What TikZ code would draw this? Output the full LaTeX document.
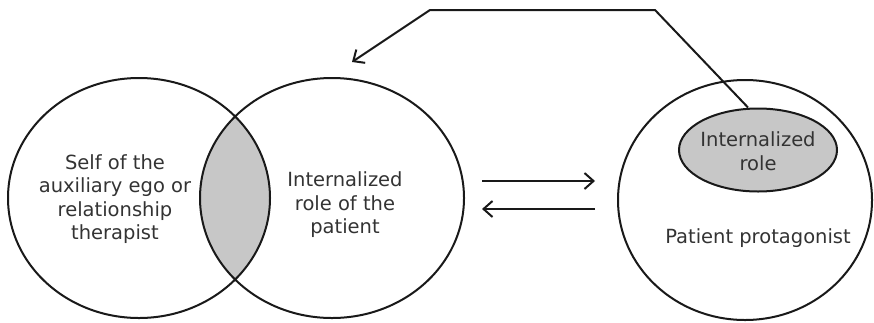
\documentclass[tikz,border=0pt]{standalone}
\usepackage{fontspec}
\setmainfont{DejaVu Sans}
\usetikzlibrary{shapes.geometric,arrows.meta}
\begin{document}
\begin{tikzpicture}[x=1pt,y=-1pt,
  ring/.style={draw=black!90,line width=2pt,ellipse,inner sep=0pt},
  lbl/.style={align=center,text=black!80,font=\fontsize{19.5}{23.5}\selectfont},
  link/.style={draw=black!90,line width=2pt},
  tip/.style={-{Straight Barb[length=9pt,width=16pt,line width=2pt]}}]
\useasboundingbox (0,0) rectangle (874,322);
% shaded lens
\begin{scope}
  \clip (139,198) ellipse [x radius=131,y radius=120];
  \fill[black!22] (332,198) ellipse [x radius=132,y radius=120];
\end{scope}
\node[ring,minimum width=262pt,minimum height=240pt] (self) at (139,198) {};
\node[ring,minimum width=264pt,minimum height=240pt] (role) at (332,198) {};
\node[ring,minimum width=254pt,minimum height=240pt] (prot) at (745,200) {};
\node[ring,fill=black!22,minimum width=158pt,minimum height=83pt] (inner) at (758,150) {};
\node[lbl] (selft) at (115,199) {Self of the\\auxiliary ego or\\relationship\\therapist};
\node[lbl] (rolet) at (345,205) {Internalized\\role of the\\patient};
\node[lbl] (innert) at (758,151) {Internalized\\role};
\node[lbl] (prott) at (758,238) {Patient protagonist};
\coordinate (c1) at (655,10);
\coordinate (c2) at (430,10);
\coordinate (c3) at (352,62);
\draw[link,tip] (inner.north -| 748,0) -- (c1) -- (c2) -- (c3);
\coordinate (a1) at (482,181);
\coordinate (a2) at (595,181);
\coordinate (b1) at (595,209);
\coordinate (b2) at (482,209);
\draw[link,tip] (a1) -- (a2);
\draw[link,tip] (b1) -- (b2);
\end{tikzpicture}
\end{document}
